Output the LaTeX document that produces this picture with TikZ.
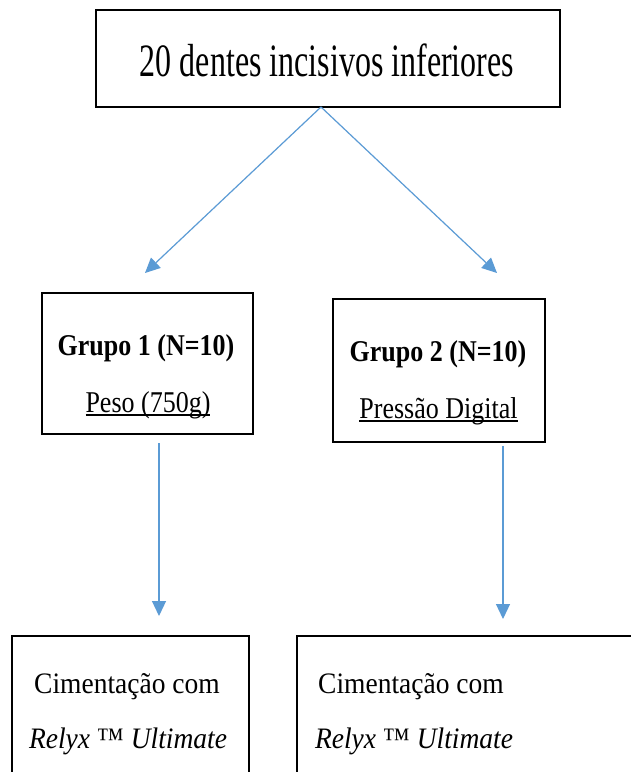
\documentclass[tikz,border=0pt]{standalone}
\usepackage{fontspec}
\usepackage{graphicx}
\setmainfont{Liberation Serif}
\usetikzlibrary{arrows.meta}
\definecolor{arrowblue}{HTML}{5B9BD5}
\newcommand\thickul[1]{\setbox0\hbox{#1}\rlap{\rule[-3.2pt]{\wd0}{1.6pt}}\box0}
\tikzset{
  x=1pt, y=-1pt,
  boxline/.style={draw=black, line width=1.5pt},
  lbl/.style={anchor=base, inner sep=0pt},
  conn/.style={draw=arrowblue, line width=1.2pt, -{Triangle[length=15pt,width=14pt]}},
}
\begin{document}
\begin{tikzpicture}
\useasboundingbox (0,0) rectangle (630,772);
\fill[white] (0,0) rectangle (630,772);
% boxes
\draw[boxline, line width=2pt] (96,10) rectangle (560,107);
\coordinate (topbox-s) at (321,107);
\draw[boxline] (42,293) rectangle (253,434);
\draw[boxline] (333,299) rectangle (545,442);
\draw[boxline] (12,636) rectangle (249,800);
\draw[boxline] (297,636) rectangle (660,800);
% texts
\node[lbl, font=\fontsize{32}{36}\selectfont] (t0) at (327,76) {\scalebox{1}[1.45]{20 dentes incisivos inferiores}};
\node[lbl, font=\fontsize{26}{30}\selectfont\bfseries] (g1) at (146,355) {\scalebox{1}[1.16]{Grupo 1 (N=10)}};
\node[lbl, font=\fontsize{26}{30}\selectfont] (p1) at (148,412) {\scalebox{1}[1.16]{\thickul{Peso (750g)}}};
\node[lbl, font=\fontsize{26}{30}\selectfont\bfseries] (g2) at (438,361) {\scalebox{1}[1.16]{Grupo 2 (N=10)}};
\node[lbl, font=\fontsize{26}{30}\selectfont] (p2) at (438.5,418) {\scalebox{1}[1.16]{\thickul{Pressão Digital}}};
\node[lbl, font=\fontsize{27.5}{31}\selectfont] (c1) at (127,693) {\scalebox{1}[1.08]{Cimentação com}};
\node[lbl, font=\fontsize{27.5}{31}\selectfont] (r1) at (128,748) {\scalebox{1}[1.08]{\textit{Relyx} ™ \textit{Ultimate}}};
\node[lbl, font=\fontsize{27.5}{31}\selectfont] (c2) at (411,693) {\scalebox{1}[1.08]{Cimentação com}};
\node[lbl, font=\fontsize{27.5}{31}\selectfont] (r2) at (414,748) {\scalebox{1}[1.08]{\textit{Relyx} ™ \textit{Ultimate}}};
% connector endpoints
\coordinate (a1) at (145,273);
\coordinate (a2) at (497,273);
\coordinate (v1s) at (159,443);
\coordinate (v1e) at (159,616);
\coordinate (v2s) at (503,446);
\coordinate (v2e) at (503,619);
\draw[conn] (topbox-s) -- (a1);
\draw[conn] (topbox-s) -- (a2);
\draw[conn] (v1s) -- (v1e);
\draw[conn] (v2s) -- (v2e);
\end{tikzpicture}
\end{document}
